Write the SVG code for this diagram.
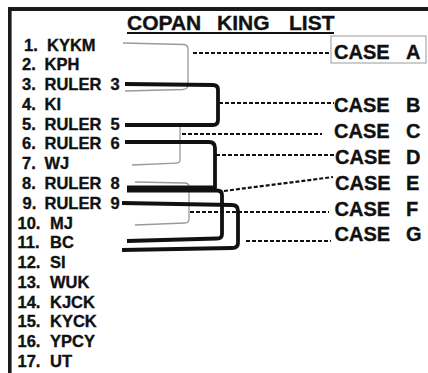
<svg xmlns="http://www.w3.org/2000/svg" width="428" height="373" viewBox="0 0 428 373">
<style>
text{font-family:"Liberation Sans",Arial,sans-serif;font-weight:bold;fill:#111;stroke:#111;stroke-width:0.35}
.item{font-size:16.5px}
.case{font-size:20px}
.title{font-size:21px}
.thick{fill:none;stroke:#111;stroke-width:3.8;stroke-linejoin:round;stroke-linecap:butt}
.thin{fill:none;stroke:#9a9a9a;stroke-width:1.3}
.dash{fill:none;stroke:#111;stroke-width:2.2;stroke-dasharray:4 2}
</style>
<rect width="428" height="373" fill="#fff"/>
<g id="frame">
<rect x="8" y="7" width="420" height="4" fill="#1a1a1a"/>
<rect x="8" y="7" width="3.6" height="366" fill="#1a1a1a"/>
</g>
<g id="title">
<text class="title" x="127" y="30">COPAN<tspan x="217">KING</tspan><tspan x="289">LIST</tspan></text>
<line x1="127" y1="33" x2="334" y2="33" stroke="#111" stroke-width="2"/>
</g>
<g id="list">
<g id="k1"><text class="item" x="24" y="50.5">1.<tspan x="47">KYKM</tspan></text></g>
<g id="k2"><text class="item" x="22" y="70.3">2.<tspan x="44.5">KPH</tspan></text></g>
<g id="k3"><text class="item" x="22" y="90.1">3.<tspan x="44.5">RULER</tspan><tspan x="110.5">3</tspan></text></g>
<g id="k4"><text class="item" x="22" y="109.8">4.<tspan x="44.5">KI</tspan></text></g>
<g id="k5"><text class="item" x="22" y="129.6">5.<tspan x="44.5">RULER</tspan><tspan x="110.5">5</tspan></text></g>
<g id="k6"><text class="item" x="22" y="149.4">6.<tspan x="44.5">RULER</tspan><tspan x="110.5">6</tspan></text></g>
<g id="k7"><text class="item" x="22" y="169.2">7.<tspan x="44.5">WJ</tspan></text></g>
<g id="k8"><text class="item" x="22" y="189">8.<tspan x="44.5">RULER</tspan><tspan x="110.5">8</tspan></text></g>
<g id="k9"><text class="item" x="22.5" y="208.7">9.<tspan x="44.5">RULER</tspan><tspan x="110.5">9</tspan></text></g>
<g id="k10"><text class="item" x="17.5" y="228.5">10.<tspan x="50">MJ</tspan></text></g>
<g id="k11"><text class="item" x="17.5" y="248.3">11.<tspan x="50">BC</tspan></text></g>
<g id="k12"><text class="item" x="17.5" y="268.1">12.<tspan x="50">SI</tspan></text></g>
<g id="k13"><text class="item" x="17.5" y="287.9">13.<tspan x="50">WUK</tspan></text></g>
<g id="k14"><text class="item" x="17.5" y="307.6">14.<tspan x="50">KJCK</tspan></text></g>
<g id="k15"><text class="item" x="17.5" y="327.4">15.<tspan x="50">KYCK</tspan></text></g>
<g id="k16"><text class="item" x="17.5" y="347.2">16.<tspan x="50">YPCY</tspan></text></g>
<g id="k17"><text class="item" x="17.5" y="367">17.<tspan x="50">UT</tspan></text></g>
</g>
<g id="cases">
<g id="caseA"><rect x="331" y="36" width="95" height="27" fill="none" stroke="#9a9a9a" stroke-width="1"/><text class="case" x="334" y="59">CASE<tspan x="406">A</tspan></text></g>
<g id="caseB"><text class="case" x="334" y="112">CASE<tspan x="406">B</tspan></text></g>
<g id="caseC"><text class="case" x="334" y="138">CASE<tspan x="406">C</tspan></text></g>
<g id="caseD"><text class="case" x="335" y="164">CASE<tspan x="406">D</tspan></text></g>
<g id="caseE"><text class="case" x="335" y="189.5">CASE<tspan x="406">E</tspan></text></g>
<g id="caseF"><text class="case" x="334.5" y="215.5">CASE<tspan x="406">F</tspan></text></g>
<g id="caseG"><text class="case" x="334.5" y="241">CASE<tspan x="406">G</tspan></text></g>
</g>
<g id="connectors">
<path class="thin" d="M123,43 L184,44.5 Q188,45 188,49 V85 Q188,89 183,89.5 L125,91"/>
<path class="thin" d="M180,124 V160 Q180,163 176,163.2 L132,165"/>
<path class="thin" d="M135,182 L185,183 Q189,183 189,187 V219 Q189,223 185,223 L135,225"/>
<path class="thick" d="M125,84 L213,85 Q218,85 218,90 V120 Q218,125 213,125 H125"/>
<path class="thick" d="M125,142 H209 Q215,142 215,148 V187.5 H127"/>
<path class="thick" d="M127,190.5 H217 Q222,190.5 222,195 V234 Q222,238.5 217,238.5 L127,241"/>
<path class="thick" d="M122,203 L232,205 Q238,205 238,211 V243 Q238,248 232,248 L122,250"/>
<line class="dash" x1="193" y1="53" x2="331" y2="53"/>
<line class="dash" x1="219" y1="103" x2="334" y2="103"/>
<line class="dash" x1="182" y1="134" x2="322" y2="134"/>
<line class="dash" x1="216" y1="155" x2="334" y2="155"/>
<line class="dash" x1="224" y1="191" x2="333" y2="177"/>
<line class="dash" x1="190" y1="212" x2="329" y2="212"/>
<line class="dash" x1="246" y1="241" x2="331" y2="241"/>
</g>
</svg>
